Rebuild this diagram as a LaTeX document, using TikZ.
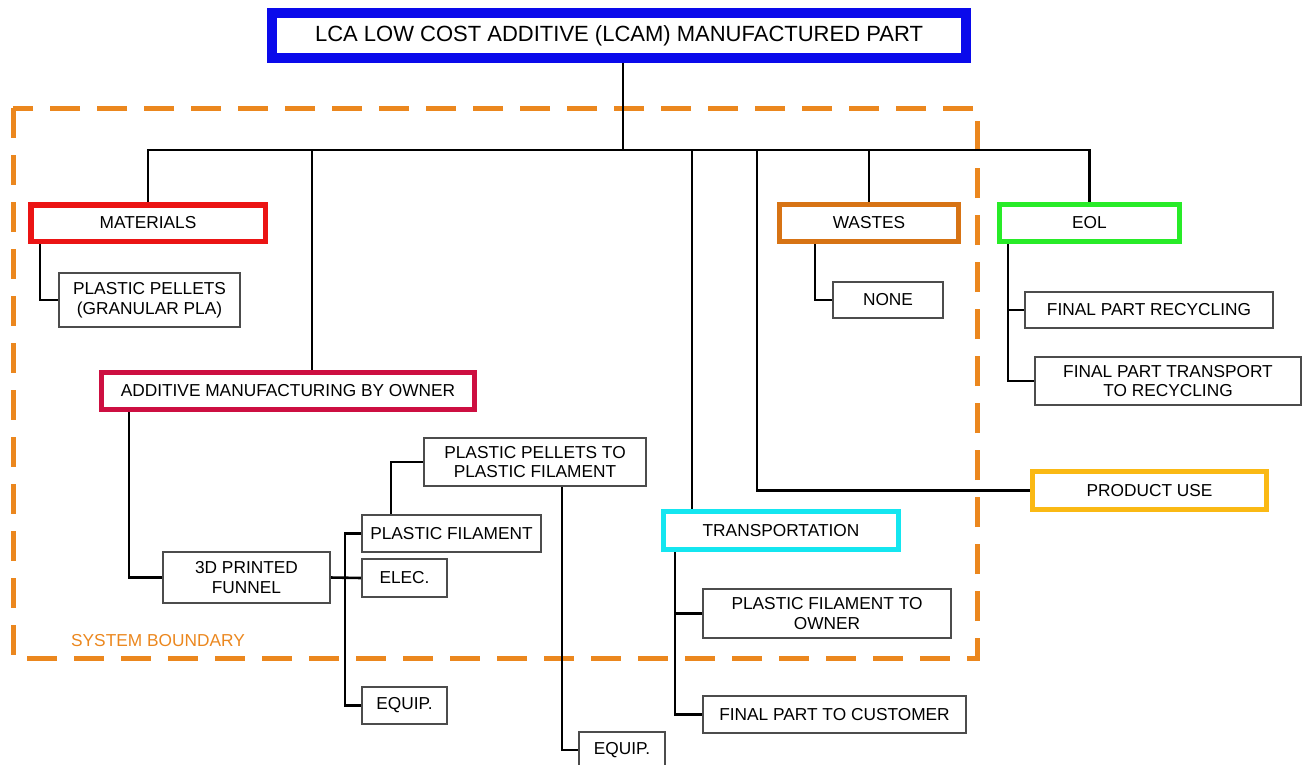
\documentclass[tikz,border=0pt]{standalone}
\usepackage{fontspec}
\setmainfont{Liberation Sans}
\pgfdeclarelayer{bnd}\pgfdeclarelayer{lines}\pgfsetlayers{bnd,lines,main}
\definecolor{cTitle}{RGB}{10,10,235}
\definecolor{cMat}{RGB}{235,20,20}
\definecolor{cAdd}{RGB}{205,15,65}
\definecolor{cWaste}{RGB}{215,115,20}
\definecolor{cEol}{RGB}{40,235,40}
\definecolor{cUse}{RGB}{250,185,20}
\definecolor{cTrans}{RGB}{20,230,240}
\definecolor{cBnd}{RGB}{235,135,30}
\begin{document}
\begin{tikzpicture}[x=1pt,y=-1pt,
 every node/.style={inner sep=0pt, outer sep=0pt, align=center, font=\fontsize{17.3}{19.5}\selectfont},
 thinbox/.style={draw=black!70, line width=1.3pt, fill=white},
 thickbox/.style={draw=#1, line width=5.5pt, fill=white},
 conn/.style={draw=black, line width=2.6pt},
]
\useasboundingbox (0,0) rectangle (1303,764);

% nodes
\node[draw=cTitle, line width=10pt, fill=white, minimum width=694pt, minimum height=45pt,
  font=\fontsize{22}{26}\selectfont] (title) at (619,35.5) {LCA LOW COST ADDITIVE (LCAM) MANUFACTURED PART};
\node[thickbox=cMat, minimum width=234.5pt, minimum height=36.5pt] (mat) at (148,223) {MATERIALS};
\node[thinbox, minimum width=181pt, minimum height=54pt] (pel) at (149.5,300) {PLASTIC PELLETS\\(GRANULAR PLA)};
\node[thickbox=cAdd, minimum width=373pt, minimum height=37pt] (add) at (288,391) {ADDITIVE MANUFACTURING BY OWNER};
\node[thickbox=cWaste, minimum width=179pt, minimum height=37pt] (waste) at (869,223) {WASTES};
\node[thickbox=cEol, minimum width=180pt, minimum height=37pt] (eol) at (1089.5,223) {EOL};
\node[thinbox, minimum width=110pt, minimum height=36pt] (none) at (888,300) {NONE};
\node[thinbox, minimum width=248pt, minimum height=36pt] (fpr) at (1149,310) {FINAL PART RECYCLING};
\node[thinbox, minimum width=266pt, minimum height=48pt] (fpt) at (1168,381) {FINAL PART TRANSPORT\\TO RECYCLING};
\node[thickbox=cUse, minimum width=234pt, minimum height=38pt] (use) at (1149.5,490.5) {PRODUCT USE};
\node[thickbox=cTrans, minimum width=235pt, minimum height=38pt] (trans) at (781,530.5) {TRANSPORTATION};
\node[thinbox, minimum width=248pt, minimum height=49pt] (pfo) at (827,613.5) {PLASTIC FILAMENT TO\\OWNER};
\node[thinbox, minimum width=263pt, minimum height=37pt] (fpc) at (834.5,714.5) {FINAL PART TO CUSTOMER};
\node[thinbox, minimum width=167pt, minimum height=51pt] (fun) at (246.5,577.5) {3D PRINTED\\FUNNEL};
\node[thinbox, minimum width=179pt, minimum height=37pt] (pf) at (451.5,533.5) {PLASTIC FILAMENT};
\node[thinbox, minimum width=85pt, minimum height=38pt] (elec) at (404.5,578) {ELEC.};
\node[thinbox, minimum width=85pt, minimum height=37pt] (eq1) at (404.5,705.5) {EQUIP.};
\node[thinbox, minimum width=222pt, minimum height=48pt] (ppf) at (535,462) {PLASTIC PELLETS TO\\PLASTIC FILAMENT};
\node[thinbox, minimum width=86pt, minimum height=36pt] (eq2) at (622,750) {EQUIP.};
\node[text=cBnd] (sb) at (158,641) {SYSTEM BOUNDARY};

% boundary
\begin{pgfonlayer}{bnd}
\draw[cBnd, line width=5pt, dash pattern=on 30pt off 17pt] (13,108) rectangle (977,658);
\end{pgfonlayer}

% connectors
\begin{pgfonlayer}{lines}
\coordinate (bus) at (623,150);
\draw[conn] (title.south -| bus) -- (bus);
\draw[conn] (mat.north) -- (mat.north |- bus) -- (eol.north |- bus) -- (eol.north);
\draw[conn] (waste.north) -- (waste.north |- bus);
\coordinate (ad) at (312,150);
\draw[conn] (ad) -- (ad |- add.north);
\coordinate (tr) at (692,150);
\draw[conn] (tr) -- (tr |- trans.north);
\coordinate (pu) at (757,150);
\draw[conn] (pu) |- (use.west);
\draw[conn] ([xshift=9.25pt]mat.south west) |- (pel.west);
\draw[conn] ([xshift=27.5pt]add.south west) |- (fun.west);
\coordinate (fv) at (345,578);
\draw[conn] (fun.east) -- (elec.west);
\draw[conn] (pf.west) -- (pf.west -| fv) -- (eq1.west -| fv) -- (eq1.west);
\draw[conn] ([xshift=29pt]pf.north west) |- (ppf.west);
\draw[conn] ([xshift=138pt]ppf.south west) |- (eq2.west);
\draw[conn] ([xshift=35.5pt]waste.south west) |- (none.west);
\draw[conn] ([xshift=8.5pt]eol.south west) |- (fpt.west);
\draw[conn] ([xshift=8.5pt]eol.south west) |- (fpr.west);
\draw[conn] ([xshift=11.5pt]trans.south west) |- (fpc.west);
\draw[conn] ([xshift=11.5pt]trans.south west) |- (pfo.west);
\end{pgfonlayer}
\end{tikzpicture}
\end{document}
